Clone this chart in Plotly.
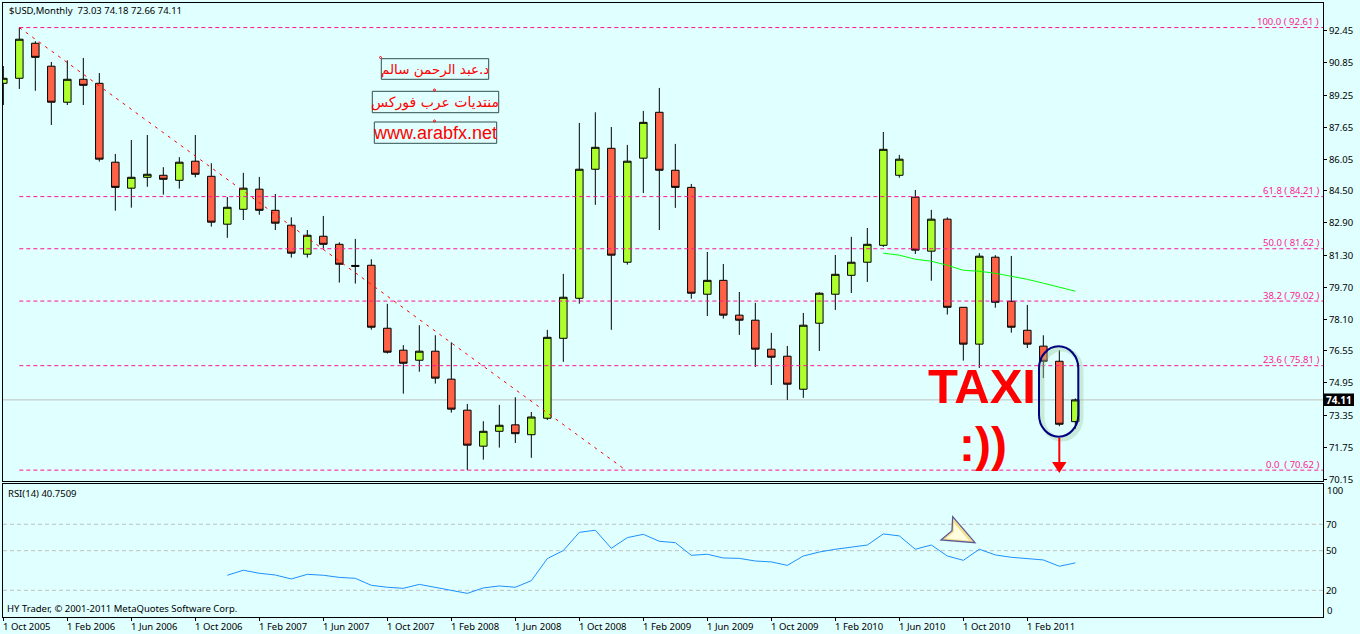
import plotly.graph_objects as go

# ---------- data ----------
opens = [89.84,90.09,91.83,90.69,88.90,90.04,89.84,85.92,84.63,85.17,85.27,85.02,85.97,85.22,82.84,83.58,84.58,83.53,82.79,81.35,
         82.24,81.84,80.79,80.80,77.67,76.58,76.08,76.53,75.14,73.60,71.81,72.55,72.87,72.38,73.20,77.17,79.16,85.57,86.61,80.95,
         86.12,88.40,85.52,84.67,79.36,80.05,78.32,78.07,76.63,76.28,74.64,77.92,79.36,80.30,80.95,81.79,85.27,84.18,81.50,83.09,
         78.71,76.88,81.20,79.01,77.57,76.78,76.03,73.03]
highs = [90.70,92.61,91.93,90.90,90.98,91.10,90.35,86.33,87.02,87.27,85.67,86.17,87.27,85.87,84.19,85.39,85.19,84.34,83.18,82.55,
         83.25,81.94,82.11,81.10,78.88,76.83,77.82,77.32,76.97,73.91,73.05,73.86,74.24,73.51,77.59,80.37,87.87,88.40,87.67,86.78,
         88.47,89.61,86.83,84.84,81.46,80.86,79.47,78.93,77.44,76.79,78.43,79.46,81.31,82.21,82.65,87.42,86.28,84.54,83.55,83.18,
         78.71,81.40,81.30,81.26,78.83,77.32,76.58,74.18]
lows = [88.76,89.56,89.47,87.77,88.76,88.76,85.95,83.51,83.66,84.70,84.31,84.61,85.17,82.72,82.16,83.05,83.31,82.55,81.18,81.18,
        81.64,79.94,79.89,77.60,76.41,74.42,75.51,74.92,73.48,70.62,71.14,71.74,71.97,71.23,73.11,76.00,78.89,83.80,77.59,80.83,
        84.39,82.55,83.65,79.14,78.28,78.15,77.34,75.75,74.85,74.11,74.21,76.54,78.58,79.42,79.97,81.71,85.15,81.36,80.03,78.35,
        76.06,75.70,78.69,77.45,76.69,75.19,72.80,72.66]
closes = [90.09,92.03,91.13,88.90,90.04,89.74,86.07,84.67,85.17,85.32,85.07,85.92,85.32,82.94,83.68,84.63,83.53,82.89,81.40,82.29,
          81.84,80.85,80.75,77.72,76.48,75.93,76.53,75.19,73.65,71.86,72.55,72.85,72.43,73.26,77.22,79.21,85.57,86.66,81.30,85.97,
          87.90,85.52,84.67,79.41,80.05,78.32,78.07,76.63,76.23,74.89,77.82,79.41,80.35,80.95,81.84,86.56,86.07,81.55,83.09,78.71,
          76.88,81.25,78.96,77.72,76.88,76.03,72.90,74.11]
bar_index = list(range(len(opens)))

ma_index = [55,56,57,58,59,60,61,62,63,64,65,66,67]
ma_values = [81.40,81.30,81.10,81.00,80.80,80.55,80.50,80.40,80.25,80.10,79.91,79.71,79.51]

rsi_index = list(range(14, 68))
rsi_values = [31.4,35.2,32.9,31.6,28.6,32.1,31.4,29.8,29.1,23.8,22.3,21.5,24.5,22.3,20.3,17.7,21.8,23.3,22.3,27.3,
              44.0,50.1,63.9,65.5,51.8,59.9,62.4,57.1,56.1,46.5,47.3,44.5,44.2,42.2,41.5,38.9,46.0,49.0,51.1,52.6,
              54.3,62.7,61.2,51.1,54.3,46.0,42.7,51.1,46.8,45.0,44.2,43.0,38.2,40.75]
rsi_levels = [70, 50, 20]

fib_pct = ["100.0", "61.8", "50.0", "38.2", "23.6", "0.0"]
fib_val = [92.61, 84.21, 81.62, 79.02, 75.81, 70.62]
fib_gap = [" ", " ", " ", " ", " ", "  "]

trend_x = [1, 38.9]
trend_y = [92.61, 70.62]

price_ticks = [92.45,90.85,89.25,87.65,86.05,84.50,82.90,81.30,79.70,78.10,76.55,74.95,73.35,71.75,70.15]
date_tick_index = [0,4,8,12,16,20,24,28,32,36,40,44,48,52,56,60,64]
date_tick_labels = ["1 Oct 2005","1 Feb 2006","1 Jun 2006","1 Oct 2006","1 Feb 2007","1 Jun 2007","1 Oct 2007","1 Feb 2008",
                    "1 Jun 2008","1 Oct 2008","1 Feb 2009","1 Jun 2009","1 Oct 2009","1 Feb 2010","1 Jun 2010","1 Oct 2010","1 Feb 2011"]

BG = "#E0FFFF"
FONT = "Noto Sans"
W, H = 1360, 634
def fx(p): return p / W
def fy(p): return 1 - p / H

XR = [-0.02, 82.48]
fig = go.Figure()

fig.add_trace(go.Candlestick(
    x=bar_index, open=opens, high=highs, low=lows, close=closes,
    increasing=dict(fillcolor="#ADFF2F", line=dict(color="#000000", width=1)),
    decreasing=dict(fillcolor="#FF6347", line=dict(color="#000000", width=1)),
    whiskerwidth=0, showlegend=False, xaxis="x", yaxis="y"))

for v in fib_val:
    fig.add_trace(go.Scatter(x=[1, XR[1]], y=[v, v], mode="lines", showlegend=False,
                             line=dict(color="#FF1493", width=1, dash="4px,3px"), xaxis="x", yaxis="y"))
fig.add_trace(go.Scatter(x=trend_x, y=trend_y, mode="lines", showlegend=False,
                         line=dict(color="#FF0000", width=1, dash="3px,5px"), xaxis="x", yaxis="y"))
fig.add_trace(go.Scatter(x=ma_index, y=ma_values, mode="lines", showlegend=False,
                         line=dict(color="#00FF00", width=1), xaxis="x", yaxis="y"))

for v in rsi_levels:
    fig.add_trace(go.Scatter(x=XR, y=[v, v], mode="lines", showlegend=False,
                             line=dict(color="#C0C0C0", width=1, dash="4px,3px"), xaxis="x2", yaxis="y2"))
fig.add_trace(go.Scatter(x=rsi_index, y=rsi_values, mode="lines", showlegend=False,
                         line=dict(color="#1E90FF", width=1), xaxis="x2", yaxis="y2"))

shapes = []
shapes.append(dict(type="line", xref="paper", yref="y", x0=fx(3), x1=fx(1323), y0=closes[-1], y1=closes[-1],
                   line=dict(color="#C0C0C0", width=1), layer="below"))

for x0, x1, y0, y1 in [(381.3,488.7,58.7,79.3),(372.3,498.7,91.3,112.7),(374.3,496.7,122,143.3)]:
    shapes.append(dict(type="rect", xref="paper", yref="paper", x0=fx(x0), x1=fx(x1), y0=fy(y0), y1=fy(y1),
                       line=dict(color="#2F4F4F", width=1)))
for cx, cy in [(380.5,57.5),(434.5,90),(434.5,121)]:
    shapes.append(dict(type="circle", xref="paper", yref="paper", x0=fx(cx-1), x1=fx(cx+1), y0=fy(cy-1), y1=fy(cy+1),
                       line=dict(color="#FF0000", width=1)))

def stadium(x1, x2, y1, y2, rx, ry):
    k = 0.5523
    return (f"M {fx(x1)} {fy(y1+ry)} "
            f"C {fx(x1)} {fy(y1+ry-ry*k)} {fx(x1+rx-rx*k)} {fy(y1)} {fx(x1+rx)} {fy(y1)} "
            f"C {fx(x2-rx+rx*k)} {fy(y1)} {fx(x2)} {fy(y1+ry-ry*k)} {fx(x2)} {fy(y1+ry)} "
            f"L {fx(x2)} {fy(y2-ry)} "
            f"C {fx(x2)} {fy(y2-ry+ry*k)} {fx(x2-rx+rx*k)} {fy(y2)} {fx(x2-rx)} {fy(y2)} "
            f"C {fx(x1+rx-rx*k)} {fy(y2)} {fx(x1)} {fy(y2-ry+ry*k)} {fx(x1)} {fy(y2-ry)} Z")

shapes.append(dict(type="path", xref="paper", yref="paper", path=stadium(1042,1081,349,439,19.5,22),
                   line=dict(color="rgba(160,205,160,0.4)", width=5)))
shapes.append(dict(type="path", xref="paper", yref="paper", path=stadium(1039,1078.3,346.3,436.7,19.6,22),
                   line=dict(color="#000080", width=2)))

shapes.append(dict(type="line", xref="paper", yref="paper", x0=fx(1059.3), x1=fx(1059.3), y0=fy(438), y1=fy(463),
                   line=dict(color="#FF0000", width=2)))
def poly(pts):
    return "M " + " L ".join(f"{fx(a)} {fy(b)}" for a, b in pts) + " Z"
shapes.append(dict(type="path", xref="paper", yref="paper", path=poly([(1052,462),(1066.5,462),(1059.3,473)]),
                   fillcolor="#FF0000", line=dict(color="#FF0000", width=0)))

shapes.append(dict(type="path", xref="paper", yref="paper",
                   path=poly([(952.7,516.7),(952,530.7),(941,540),(975,542.7)]),
                   fillcolor="#F7E08F", line=dict(color="#5A5A9A", width=1.3)))
shapes.append(dict(type="path", xref="paper", yref="paper",
                   path=poly([(954,523),(954,532),(946,538.5),(969,540.5)]),
                   fillcolor="#FFFDE0", line=dict(width=0)))

ann = []
def text(x, y, s, size=9.5, color="#000000", xanchor="left", family=FONT, bold=False, **kw):
    t = f"<b>{s}</b>" if bold else s
    ann.append(dict(xref="paper", yref="paper", x=fx(x), y=fy(y), text=t, showarrow=False, xanchor=xanchor,
                    yanchor="middle", font=dict(family=family, size=size, color=color), borderpad=0, **kw))

text(8, 10.5, "$USD,Monthly  73.03 74.18 72.66 74.11")
text(7, 493, "RSI(14) 40.7509")
text(6, 608.7, "HY Trader, © 2001-2011 MetaQuotes Software Corp.")

for pct, val, gap in zip(fib_pct, fib_val, fib_gap):
    ann.append(dict(xref="paper", yref="y", x=fx(1321), y=val, yshift=6, text=f"{pct}{gap}( {val:.2f} )", showarrow=False,
                    xanchor="right", yanchor="middle", font=dict(family=FONT, size=9.5, color="#FF2090")))

for i, s in zip(date_tick_index, date_tick_labels):
    ann.append(dict(xref="x2", yref="paper", x=i, y=fy(626), text=s, showarrow=False, xanchor="left", yanchor="middle",
                    font=dict(family=FONT, size=9.5, color="#000000"), borderpad=0, xshift=-1))

text(1325.5, 490, "100")
text(1325.5, 610.6, "0")

text(435, 69, "د.عبد الرحمن سالم", size=13.5, color="#FF0000", xanchor="center", family="DejaVu Sans")
text(435, 102, "منتديات عرب فوركس", size=14, color="#FF0000", xanchor="center", family="DejaVu Sans")
text(435, 133, "www.arabfx.net", size=18, color="#FF0000", xanchor="center", family="Liberation Sans")

text(982, 385.5, "TAXI", size=49, color="#FF0000", xanchor="center", bold=True, family="Liberation Sans")
text(983, 444, ":))", size=48, color="#FF0000", xanchor="center", bold=True, family="Liberation Sans")

shapes.append(dict(type="rect", xref="paper", yref="paper", x0=fx(1324), x1=fx(1354), y0=fy(393.5), y1=fy(406),
                   fillcolor="#000000", line=dict(width=0)))
text(1339, 399.6, f"{closes[-1]:.2f}", size=10, color="#FFFFFF", xanchor="center", bold=True)

fig.update_layout(
    width=W, height=H, autosize=False,
    margin=dict(l=0, r=0, t=0, b=0, pad=0, autoexpand=False),
    paper_bgcolor=BG, plot_bgcolor=BG, showlegend=False, boxgap=0.33,
    shapes=shapes, annotations=ann,
    xaxis=dict(domain=[3/W, 1323/W], range=XR, anchor="y", showgrid=False, zeroline=False, showticklabels=False, ticks="",
               rangeslider=dict(visible=False), showline=True, mirror=True, linecolor="#000000", linewidth=1, automargin=False),
    xaxis2=dict(domain=[3/W, 1323/W], range=XR, anchor="y2", showgrid=False, zeroline=False, showticklabels=False,
                ticks="outside", ticklen=3, tickwidth=1, tickcolor="#000000", tickvals=date_tick_index,
                showline=True, mirror=True, linecolor="#000000", linewidth=1, automargin=False),
    yaxis=dict(domain=[1-481/H, 1-3/H], range=[70.08, 93.83], anchor="x", side="right", showgrid=False, zeroline=False,
               tickvals=price_ticks, ticktext=[f"{v:.2f}" for v in price_ticks], ticks="outside", ticklen=3, tickwidth=1,
               tickcolor="#000000", tickfont=dict(family=FONT, size=9.5, color="#000000"),
               showline=True, mirror=True, linecolor="#000000", linewidth=1, automargin=False),
    yaxis2=dict(domain=[1-617/H, 1-484/H], range=[-0.2, 100.5], anchor="x2", side="right", showgrid=False, zeroline=False,
                tickvals=rsi_levels, ticktext=[str(v) for v in rsi_levels], ticks="",
                tickfont=dict(family=FONT, size=9.5, color="#000000"),
                showline=True, mirror=True, linecolor="#000000", linewidth=1, automargin=False),
)

fig.write_html("out.html", config=dict(displayModeBar=False),
               post_script="document.body.style.margin='0';document.body.style.overflow='hidden';")
